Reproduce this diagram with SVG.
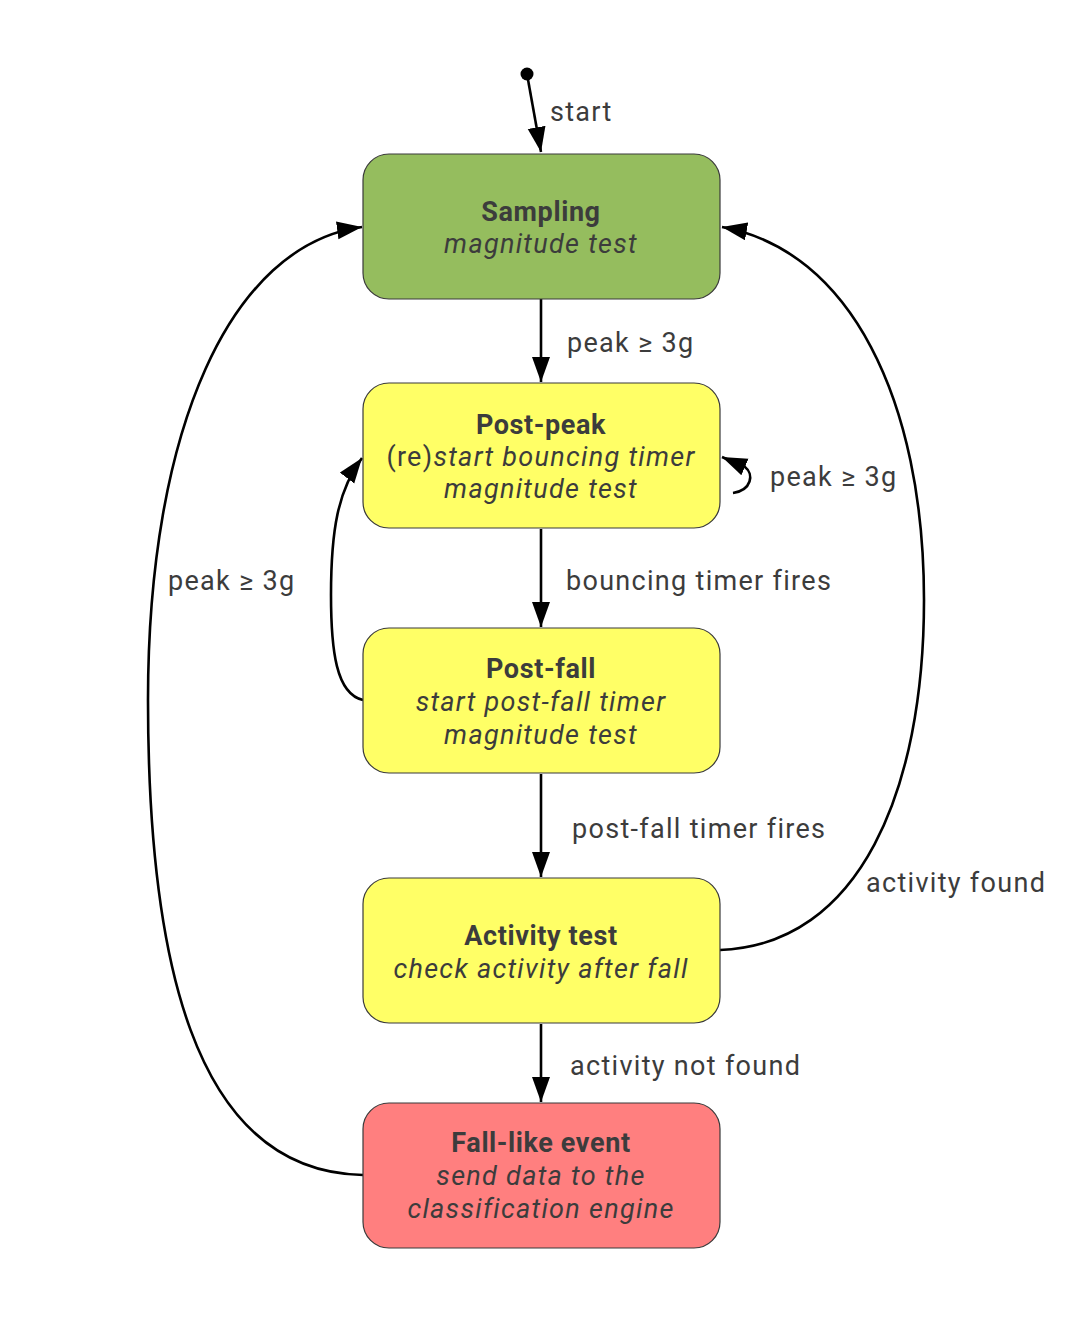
<svg xmlns="http://www.w3.org/2000/svg" width="1092" height="1328" viewBox="0 0 1092 1328">
<style>
text{font-family:Roboto,"Open Sans",sans-serif;font-size:27px;fill:#3c3c3c;letter-spacing:1.3px}
.t{text-anchor:middle}
.b{font-weight:bold;letter-spacing:0.6px}
.i{font-style:italic;letter-spacing:1.3px}
.box{stroke:#3a3a3a;stroke-width:1.2}
.e{fill:none;stroke:#000;stroke-width:2.6;marker-end:url(#ah)}
</style>
<defs>
<marker id="ah" markerWidth="28" markerHeight="20" refX="25" refY="9" orient="auto" markerUnits="userSpaceOnUse">
<path d="M0,0 L25,9 L0,18 z" fill="#000"/>
</marker>
</defs>
<rect width="1092" height="1328" fill="#fff"/>
<g id="connectors">
<circle cx="527" cy="74" r="6.5" fill="#000"/>
<path class="e" d="M527 74 L541 152"/>
<text x="550" y="121">start</text>
<path class="e" d="M541 299 L541 382"/>
<text x="567" y="352">peak ≥ 3g</text>
<path class="e" d="M733 493 C752 490 754 474 745 467 L722 457"/>
<text x="770" y="486">peak ≥ 3g</text>
<path class="e" d="M541 529 L541 627"/>
<text x="566" y="590">bouncing timer fires</text>
<path class="e" d="M363 700 C336 694 331 650 331 595 C331 530 338 490 362 458"/>
<path class="e" d="M541 774 L541 877"/>
<text x="572" y="838">post-fall timer fires</text>
<path class="e" d="M720 950 C860 945 924 790 924 600 C924 400 850 250 722 227"/>
<text x="866" y="892">activity found</text>
<path class="e" d="M541 1024 L541 1102"/>
<text x="570" y="1075">activity not found</text>
<path class="e" d="M363 1175 C190 1172 148 950 148 700 C148 430 230 245 362 227"/>
<text x="168" y="590">peak ≥ 3g</text>
</g>
<g id="sampling">
<rect class="box" x="363" y="154" width="357" height="145" rx="26" fill="#95bd5e"/>
<text class="t b" x="541" y="221">Sampling</text>
<text class="t i" x="541" y="253">magnitude test</text>
</g>
<g id="post-peak">
<rect class="box" x="363" y="383" width="357" height="145" rx="26" fill="#ffff66"/>
<text class="t b" x="541" y="434">Post-peak</text>
<text class="t" x="541" y="466">(re)<tspan class="i">start bouncing timer</tspan></text>
<text class="t i" x="541" y="498">magnitude test</text>
</g>
<g id="post-fall">
<rect class="box" x="363" y="628" width="357" height="145" rx="26" fill="#ffff66"/>
<text class="t b" x="541" y="678">Post-fall</text>
<text class="t i" x="541" y="711">start post-fall timer</text>
<text class="t i" x="541" y="744">magnitude test</text>
</g>
<g id="activity-test">
<rect class="box" x="363" y="878" width="357" height="145" rx="26" fill="#ffff66"/>
<text class="t b" x="541" y="945">Activity test</text>
<text class="t i" x="541" y="978">check activity after fall</text>
</g>
<g id="fall-like">
<rect class="box" x="363" y="1103" width="357" height="145" rx="26" fill="#ff7f7f"/>
<text class="t b" x="541" y="1152">Fall-like event</text>
<text class="t i" x="541" y="1185">send data to the</text>
<text class="t i" x="541" y="1218">classification engine</text>
</g>
</svg>
